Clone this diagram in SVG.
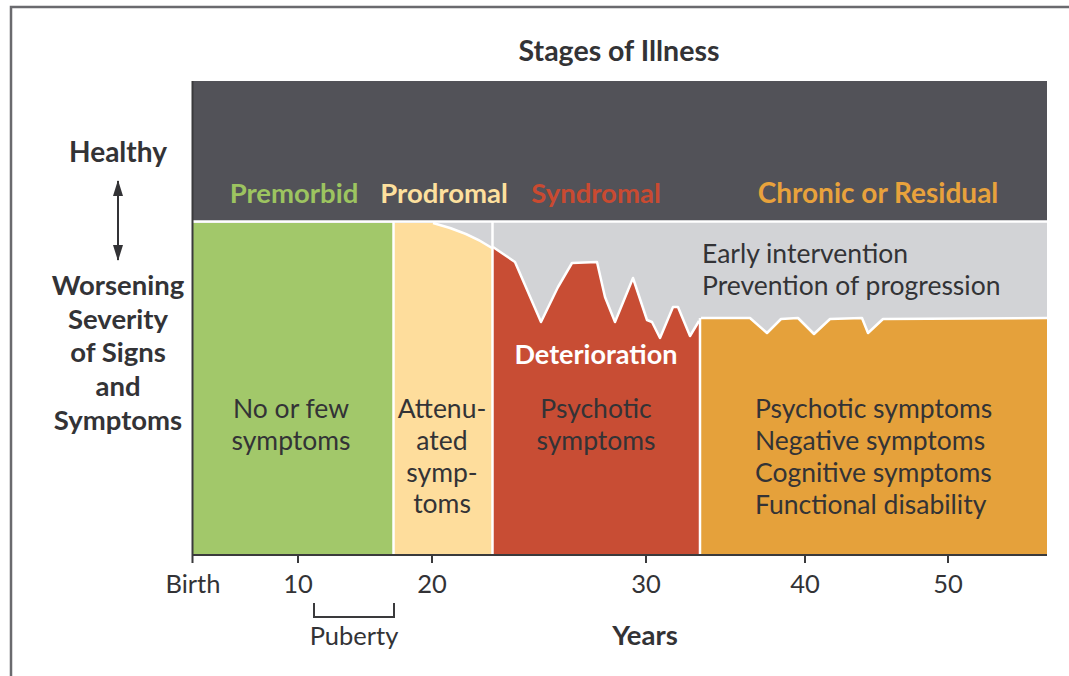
<svg xmlns="http://www.w3.org/2000/svg" width="1069" height="676" viewBox="0 0 1069 676">
<style>
.b{font-family:Lato,"Liberation Sans",sans-serif;font-weight:bold}
.r{font-family:Lato,"Liberation Sans",sans-serif;font-weight:normal}
.dk{fill:#333336}
.sep{stroke:#ffffff;stroke-width:2.5;fill:none;stroke-linejoin:round}
.ax{stroke:#3a3a3c;stroke-width:2;fill:none}
</style>
<defs>
<marker id="ah" viewBox="0 0 16 10" refX="15" refY="5" markerWidth="8" markerHeight="5" orient="auto-start-reverse" markerUnits="strokeWidth">
<path d="M0,0 L16,5 L0,10 Z" fill="#333336"/>
</marker>
</defs>
<rect width="1069" height="676" fill="#ffffff"/>
<path d="M11,676 L11,7 L1069,7" stroke="#6a6a6e" stroke-width="2.5" fill="none"/>

<text class="b dk" x="619" y="61" font-size="28.5" text-anchor="middle">Stages of Illness</text>

<g id="band">
<rect x="193" y="81" width="854" height="141" fill="#525258"/>
<text class="b" x="294" y="203" font-size="27.5" text-anchor="middle" fill="#9dc460">Premorbid</text>
<text class="b" x="444" y="203" font-size="27.5" text-anchor="middle" fill="#fde09e">Prodromal</text>
<text class="b" x="596" y="203" font-size="27.5" text-anchor="middle" fill="#c94a31">Syndromal</text>
<text class="b" x="878" y="203" font-size="28" text-anchor="middle" fill="#e8a23c">Chronic or Residual</text>
</g>

<g id="gray-zone">
<rect x="193" y="222" width="854" height="333" fill="#d2d3d6"/>
<text class="r dk" x="702" y="263" font-size="26.5">Early intervention</text>
<text class="r dk" x="702" y="295" font-size="26.5">Prevention of progression</text>
</g>

<g id="premorbid">
<rect x="193" y="223" width="200" height="332" fill="#a2c86a"/>
<text class="r dk" x="291" y="418" font-size="26.5" text-anchor="middle">No or few</text>
<text class="r dk" x="291" y="450" font-size="26.5" text-anchor="middle">symptoms</text>
</g>

<g id="prodromal">
<path d="M394,555 L394,223 L433,223 Q468,232 492,248 L492,555 Z" fill="#fedd9c"/>
<path class="sep" d="M433,223 Q468,232 492,248"/>
<text class="r dk" x="442" y="418" font-size="26.5" text-anchor="middle">Attenu-</text>
<text class="r dk" x="442" y="450" font-size="26.5" text-anchor="middle">ated</text>
<text class="r dk" x="442" y="482" font-size="26.5" text-anchor="middle">symp-</text>
<text class="r dk" x="442" y="513" font-size="26.5" text-anchor="middle">toms</text>
</g>

<g id="syndromal">
<path d="M493,555 L493,247 L515,262 L541,322 L558,287 L572,263 L597,262 L605,297 L615,322 L633,278 L647,320 L652,322 L660,338 L673,307 L678,307 L690,336 L699,321 L699,555 Z" fill="#c84d34"/>
<path class="sep" d="M493,247 L515,262 L541,322 L558,287 L572,263 L597,262 L605,297 L615,322 L633,278 L647,320 L652,322 L660,338 L673,307 L678,307 L690,336 L699,321"/>
<text class="b" x="596" y="364" font-size="27" text-anchor="middle" fill="#ffffff">Deterioration</text>
<text class="r dk" x="596" y="418" font-size="26.5" text-anchor="middle">Psychotic</text>
<text class="r dk" x="596" y="450" font-size="26.5" text-anchor="middle">symptoms</text>
</g>

<g id="chronic">
<path d="M701,555 L701,318 L750,318 L767,333 L781,319 L798,318 L814,334 L830,319 L862,318 L868,333 L883,319 L1047,318 L1047,555 Z" fill="#e5a13b"/>
<path class="sep" d="M701,318 L750,318 L767,333 L781,319 L798,318 L814,334 L830,319 L862,318 L868,333 L883,319 L1047,318"/>
<text class="r dk" x="755" y="418" font-size="26.5">Psychotic symptoms</text>
<text class="r dk" x="755" y="450" font-size="26.5">Negative symptoms</text>
<text class="r dk" x="755" y="482" font-size="26.5">Cognitive symptoms</text>
<text class="r dk" x="755" y="514" font-size="26.5">Functional disability</text>
</g>

<g id="separators">
<line class="sep" x1="193" y1="221.5" x2="1047" y2="221.5"/>
<line class="sep" x1="393.5" y1="222" x2="393.5" y2="554"/>
<line class="sep" x1="492.5" y1="222" x2="492.5" y2="554"/>
<line class="sep" x1="700" y1="318" x2="700" y2="554"/>
</g>

<g id="y-axis-label">
<text class="b dk" x="118" y="162" font-size="28" text-anchor="middle">Healthy</text>
<text class="b dk" x="118" y="295" font-size="27.5" text-anchor="middle">Worsening</text>
<text class="b dk" x="118" y="329" font-size="27.5" text-anchor="middle">Severity</text>
<text class="b dk" x="118" y="362" font-size="27.5" text-anchor="middle">of Signs</text>
<text class="b dk" x="118" y="396" font-size="27.5" text-anchor="middle">and</text>
<text class="b dk" x="118" y="430" font-size="27.5" text-anchor="middle">Symptoms</text>
</g>

<g id="connectors">
<line x1="118" y1="181" x2="118" y2="260" stroke="#333336" stroke-width="2" marker-start="url(#ah)" marker-end="url(#ah)"/>
<path class="ax" d="M192.5,81 L192.5,563 M192,555 L1047,555 M298,555 L298,563 M432,555 L432,563 M646,555 L646,563 M805,555 L805,563 M948,555 L948,563"/>
<path class="ax" d="M314,603 L314,617 L394,617 L394,603"/>
</g>

<g id="x-axis-labels">
<text class="r dk" x="193" y="593" font-size="25.5" text-anchor="middle">Birth</text>
<text class="r dk" x="298" y="593" font-size="25.5" text-anchor="middle">10</text>
<text class="r dk" x="432" y="593" font-size="25.5" text-anchor="middle">20</text>
<text class="r dk" x="646" y="593" font-size="25.5" text-anchor="middle">30</text>
<text class="r dk" x="805" y="593" font-size="25.5" text-anchor="middle">40</text>
<text class="r dk" x="948" y="593" font-size="25.5" text-anchor="middle">50</text>
<text class="r dk" x="354" y="645" font-size="25.5" text-anchor="middle">Puberty</text>
<text class="b dk" x="645" y="645" font-size="27.5" text-anchor="middle">Years</text>
</g>
</svg>
